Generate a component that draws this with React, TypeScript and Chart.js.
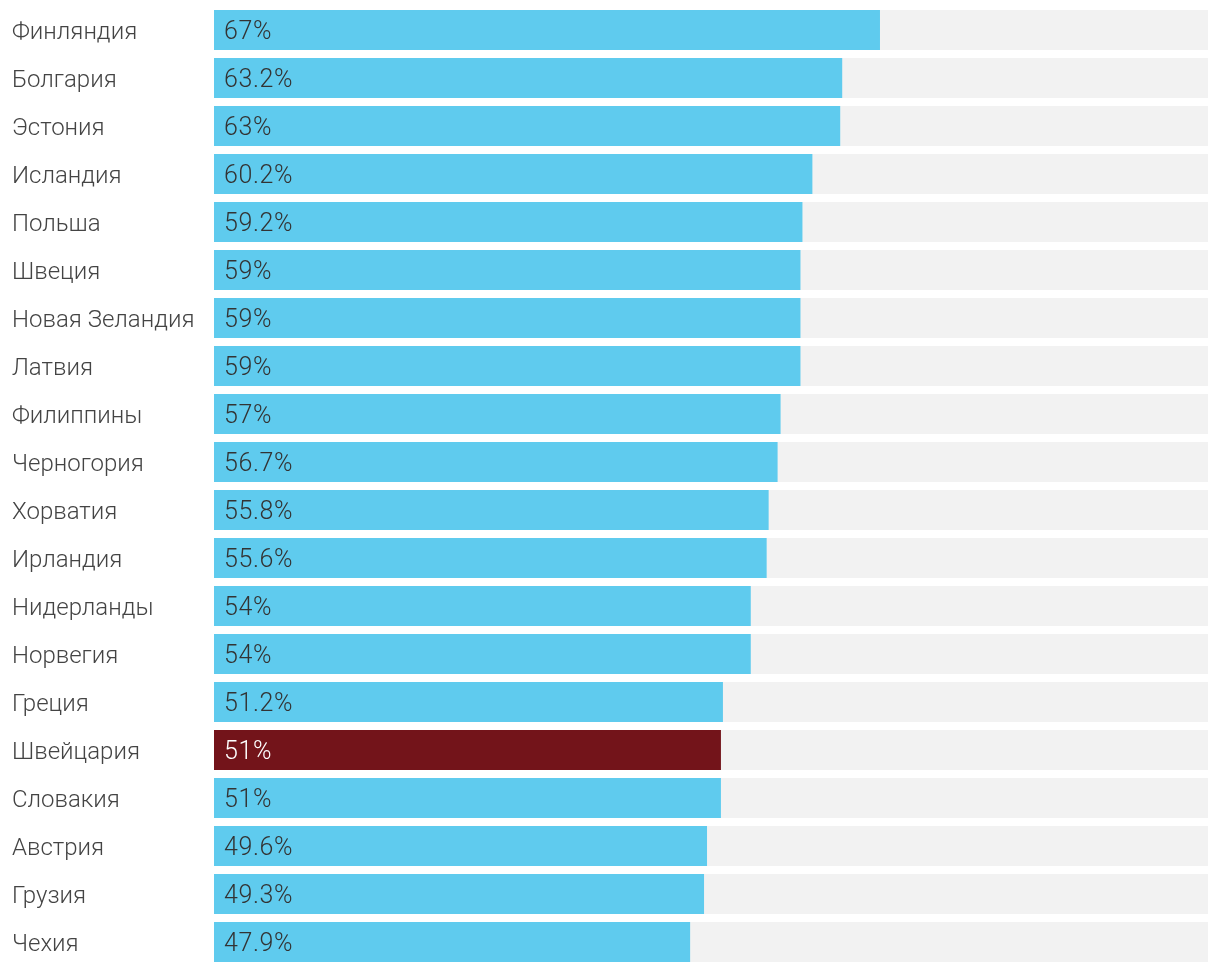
import React, { useEffect, useRef } from "react";
import { Chart, registerables } from "chart.js";

Chart.register(...registerables);

const countries = [
  "Финляндия", "Болгария", "Эстония", "Исландия", "Польша", "Швеция",
  "Новая Зеландия", "Латвия", "Филиппины", "Черногория", "Хорватия",
  "Ирландия", "Нидерланды", "Норвегия", "Греция", "Швейцария",
  "Словакия", "Австрия", "Грузия", "Чехия",
];
const values = [67, 63.2, 63, 60.2, 59.2, 59, 59, 59, 57, 56.7, 55.8, 55.6, 54, 54, 51.2, 51, 51, 49.6, 49.3, 47.9];
const valueLabels = ["67%", "63.2%", "63%", "60.2%", "59.2%", "59%", "59%", "59%", "57%", "56.7%", "55.8%", "55.6%", "54%", "54%", "51.2%", "51%", "51%", "49.6%", "49.3%", "47.9%"];
const highlight = "Швейцария";
const maxValue = 100;

const BLUE = "#5fcbee";
const RED = "#73141a";
const GRAY = "#f2f2f2";
const LABEL_FONT = "300 24px Roboto";
const VALUE_FONT = "300 25px Roboto";

const labelsPlugin = {
  id: "customLabels",
  afterDatasetsDraw(chart: any) {
    const ctx = chart.ctx;
    const meta = chart.getDatasetMeta(1);
    ctx.save();
    ctx.textBaseline = "alphabetic";
    ctx.textAlign = "left";
    meta.data.forEach((bar: any, i: number) => {
      const y = bar.y + 9;
      ctx.font = LABEL_FONT;
      (ctx as any).letterSpacing = "0px";
      ctx.fillStyle = "#444444";
      ctx.fillText(countries[i], 12, y);
      ctx.font = VALUE_FONT;
      (ctx as any).letterSpacing = "0.6px";
      ctx.fillStyle = countries[i] === highlight ? "#ffffff" : "#333333";
      ctx.fillText(valueLabels[i], chart.chartArea.left + 10, y);
    });
    ctx.restore();
  },
};

export default function App() {
  const ref = useRef<HTMLCanvasElement>(null);
  useEffect(() => {
    document.body.style.margin = "0";
    const chart = new Chart(ref.current!, {
      type: "bar",
      data: {
        labels: countries,
        datasets: [
          {
            data: countries.map(() => maxValue),
            backgroundColor: GRAY,
            grouped: false,
            order: 2,
            barPercentage: 40 / 48,
            categoryPercentage: 1,
          },
          {
            data: values,
            backgroundColor: countries.map((c) => (c === highlight ? RED : BLUE)),
            grouped: false,
            order: 1,
            barPercentage: 40 / 48,
            categoryPercentage: 1,
          },
        ],
      },
      options: {
        indexAxis: "y",
        animation: false,
        responsive: false,
        maintainAspectRatio: false,
        layout: { padding: { left: 214, right: 12, top: 6, bottom: 6 } },
        scales: {
          x: { min: 0, max: maxValue, display: false },
          y: { display: false },
        },
        plugins: { legend: { display: false }, tooltip: { enabled: false } },
      },
      plugins: [labelsPlugin],
    });
    return () => chart.destroy();
  }, []);
  return (
    <div style={{ position: "absolute", left: 0, top: 0, width: 1220, height: 972, background: "#fff" }}>
      <canvas ref={ref} width={1220} height={972} />
    </div>
  );
}
